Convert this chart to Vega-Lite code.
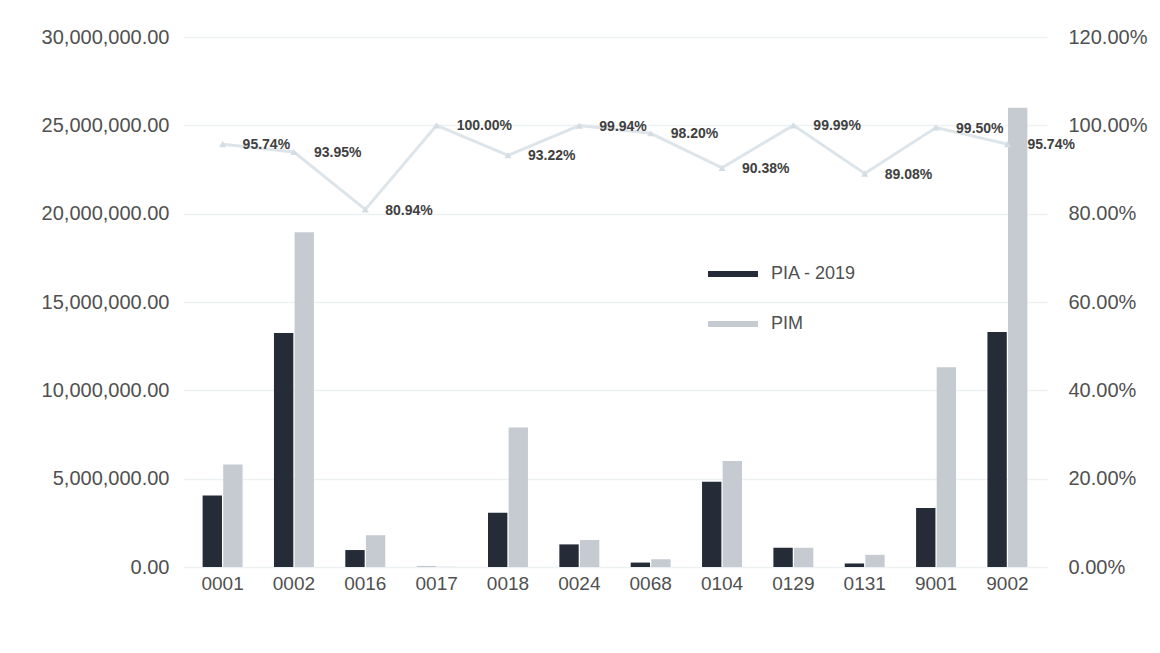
{
  "$schema": "https://vega.github.io/schema/vega-lite/v6.json",
  "width": 864,
  "height": 530,
  "autosize": {"type": "none"},
  "padding": {"left": 183, "top": 37, "right": 113, "bottom": 86},
  "background": "#ffffff",
  "config": {
    "view": {"stroke": null},
    "font": "Liberation Sans",
    "axis": {"labelFont": "Liberation Sans", "labelFontSize": 20, "labelColor": "#505050", "domain": false, "ticks": false, "gridColor": "#edf1f4", "gridWidth": 1.5}
  },
  "data": {
    "values": [
      {"code": "0001", "PIA - 2019": 4050000, "PIM": 5800000, "pct": 0.9574},
      {"code": "0002", "PIA - 2019": 13250000, "PIM": 18950000, "pct": 0.9395},
      {"code": "0016", "PIA - 2019": 960000, "PIM": 1800000, "pct": 0.8094},
      {"code": "0017", "PIA - 2019": 15000, "PIM": 15000, "pct": 1.0},
      {"code": "0018", "PIA - 2019": 3070000, "PIM": 7900000, "pct": 0.9322},
      {"code": "0024", "PIA - 2019": 1280000, "PIM": 1530000, "pct": 0.9994},
      {"code": "0068", "PIA - 2019": 250000, "PIM": 440000, "pct": 0.982},
      {"code": "0104", "PIA - 2019": 4820000, "PIM": 6000000, "pct": 0.9038},
      {"code": "0129", "PIA - 2019": 1090000, "PIM": 1090000, "pct": 0.9999},
      {"code": "0131", "PIA - 2019": 200000, "PIM": 690000, "pct": 0.8908},
      {"code": "9001", "PIA - 2019": 3340000, "PIM": 11300000, "pct": 0.995},
      {"code": "9002", "PIA - 2019": 13300000, "PIM": 26000000, "pct": 0.9574}
    ]
  },
  "encoding": {
    "x": {"field": "code", "type": "nominal", "sort": null, "title": null,
          "scale": {"paddingInner": 0.44, "paddingOuter": 0.275},
          "axis": {"labelAngle": 0, "labelPadding": 7, "grid": false, "labelFontSize": 19}}
  },
  "layer": [
    {
      "transform": [{"fold": ["PIA - 2019", "PIM"], "as": ["serie", "valor"]}],
      "mark": {"type": "bar"},
      "encoding": {
        "xOffset": {"field": "serie", "type": "nominal", "scale": {"paddingInner": 0.06}},
        "y": {"field": "valor", "type": "quantitative", "title": null,
              "scale": {"domain": [0, 30000000], "nice": false},
              "axis": {"values": [0, 5000000, 10000000, 15000000, 20000000, 25000000, 30000000], "format": ",.2f", "labelPadding": 14}},
        "color": {"field": "serie", "type": "nominal", "title": null,
                  "scale": {"domain": ["PIA - 2019", "PIM"], "range": ["#252b37", "#c6cbd1"]},
                  "legend": {"orient": "none", "legendX": 525, "legendY": 212, "padding": 0, "symbolType": "M-1,-0.12H1V0.12H-1Z", "symbolSize": 2500, "symbolStrokeWidth": 0, "labelFontSize": 18, "labelColor": "#505050", "rowPadding": 16, "labelOffset": 13, "labelFont": "Liberation Sans"}}
      }
    },
    {
      "mark": {"type": "line", "color": "#dde5ea", "strokeWidth": 3, "point": {"filled": true, "color": "#d3dde3", "shape": "triangle-up", "size": 50}},
      "encoding": {
        "y": {"field": "pct", "type": "quantitative", "title": null,
              "scale": {"domain": [0, 1.2], "nice": false},
              "axis": {"orient": "right", "values": [0, 0.2, 0.4, 0.6, 0.8, 1.0, 1.2], "format": ".2%", "grid": false, "labelPadding": 21}}
      }
    },
    {
      "mark": {"type": "text", "align": "left", "baseline": "middle", "dx": 20, "dy": 1, "fontSize": 14, "fontWeight": "bold", "color": "#404040", "font": "Liberation Sans"},
      "encoding": {
        "y": {"field": "pct", "type": "quantitative", "scale": {"domain": [0, 1.2], "nice": false}, "axis": null},
        "text": {"field": "pct", "type": "quantitative", "format": ".2%"}
      }
    }
  ],
  "resolve": {"scale": {"y": "independent"}}
}
